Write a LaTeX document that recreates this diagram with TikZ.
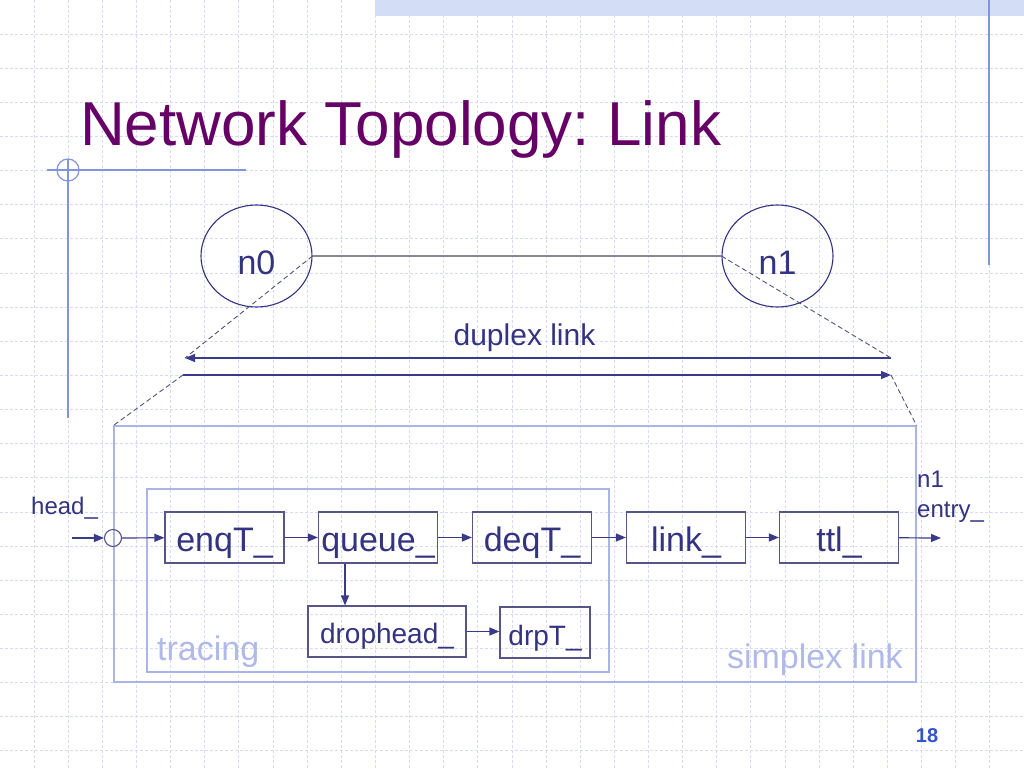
\documentclass[tikz,border=0pt]{standalone}
\usepackage{fontspec}
\setmainfont{Liberation Sans}
\usetikzlibrary{arrows.meta,shapes.geometric}
\definecolor{titlec}{RGB}{102,0,102}
\definecolor{txt}{RGB}{51,51,128}
\definecolor{boxc}{RGB}{85,85,136}
\definecolor{arrc}{RGB}{58,58,138}
\definecolor{frame}{RGB}{170,180,230}
\definecolor{lbl}{RGB}{176,185,232}
\definecolor{deco}{RGB}{130,148,220}
\definecolor{gridc}{RGB}{214,218,242}
\definecolor{bandc}{RGB}{211,221,245}
\definecolor{linkc}{RGB}{136,136,153}
\definecolor{dashc}{RGB}{85,85,119}
\definecolor{pagec}{RGB}{51,85,204}
\newcommand{\myfs}[1]{\fontsize{#1}{#1}\selectfont}
\frenchspacing
\tikzset{
  gridline/.style={draw=gridc,line width=1pt,dash pattern=on 3pt off 2pt},
  decoline/.style={draw=deco,line width=1.2pt},
  blockbox/.style={draw=boxc,line width=1.2pt,minimum width=119pt,minimum height=51pt,inner sep=0pt,text=txt,font=\myfs{34},text height=31pt,text depth=4pt},
  smallbox/.style={draw=boxc,line width=1.2pt,minimum height=51pt,inner sep=0pt,text=txt,font=\myfs{28}},
  arr/.style={draw=arrc,line width=1.2pt,-{Triangle[length=10pt,width=8pt]}},
  dashline/.style={draw=dashc,line width=0.9pt,dash pattern=on 5pt off 3pt},
  nodeell/.style={ellipse,draw=txt,line width=1.1pt,minimum width=111pt,minimum height=102pt,inner sep=0pt,text=txt,font=\myfs{34},text height=36pt,text depth=0pt},
  framebox/.style={draw=frame,line width=1.1pt,inner sep=0pt},
  plain/.style={inner sep=0pt,text=txt},
  faint/.style={inner sep=0pt,text=lbl,font=\myfs{34}},
}
\begin{document}
\begin{tikzpicture}[x=1pt,y=-1pt]
\useasboundingbox (0,0) rectangle (1024,768);
\fill[white] (0,0) rectangle (1024,768);
% grid
\foreach \i in {1,...,29} \draw[gridline] (\i*34.1333,0) -- (\i*34.1333,768);
\foreach \j in {1,...,22} \draw[gridline] (0,\j*34.1333) -- (1024,\j*34.1333);
% top band and decorations
\fill[bandc] (375,0) rectangle (1024,16);
\draw[decoline] (989,0) -- (989,265);
\draw[decoline] (47,170) -- (246,170);
\draw[decoline] (68,159) -- (68,418);
\draw[decoline] (68,170) circle[radius=11];
% title
\node[anchor=base west,inner sep=0pt,text=titlec,font=\myfs{62}] (title) at (80,145) {Network Topology: Link};
% nodes n0 n1
\node[nodeell] (n0) at (256.5,256) {n0};
\node[nodeell] (n1) at (777.5,256) {n1};
\draw[draw=linkc,line width=1.2pt] (n0.east) -- (n1.west);
% duplex link
\node[plain,anchor=base,font=\myfs{30}] (dup) at (524.5,345) {duplex link};
\coordinate (L1) at (185,358);
\coordinate (R1) at (891,358);
\coordinate (L2) at (183,375);
\coordinate (R2) at (891,375);
\draw[arr] (R1) -- (L1);
\draw[arr] (L2) -- (R2);
% frames
\node[framebox,minimum width=802pt,minimum height=256pt] (sl) at (515,554) {};
\node[framebox,minimum width=462pt,minimum height=183pt] (tr) at (378,580.5) {};
\node[faint,anchor=base west] (trl) at (157,660) {tracing};
\node[faint,anchor=base east] (sll) at (903,668) {simplex link};
% dashed projections
\draw[dashline] (n0.east) -- (L1);
\draw[dashline] (L2) -- (sl.north west);
\draw[dashline] (n1.west) -- (R1);
\draw[dashline] (R2) -- (sl.north east);
% blocks
\node[blockbox] (enq) at (224.5,537.5) {enqT\_};
\node[blockbox] (que) at (378,537.5) {queue\_};
\node[blockbox] (deq) at (532,537.5) {deqT\_};
\node[blockbox] (lnk) at (686,537.5) {link\_};
\node[blockbox] (ttl) at (839,537.5) {ttl\_};
\node[smallbox,minimum width=158pt,text height=25pt,text depth=2pt] (drop) at (387,631.5) {drophead\_};
\node[smallbox,minimum width=90pt,text height=27pt,text depth=2pt] (drp) at (545,632.5) {drpT\_};
\node[circle,draw=boxc,line width=1.1pt,minimum size=17pt,inner sep=0pt] (jn) at (113,538) {};
\coordinate (hin) at (72,538);
\coordinate (hout) at (941,538);
\node[plain,anchor=base west,font=\myfs{24}] (head) at (31,514) {head\_};
\node[plain,anchor=base west,font=\myfs{24}] (n1a) at (917,487) {n1};
\node[plain,anchor=base west,font=\myfs{24}] (n1b) at (917,517) {entry\_};
% arrows
\draw[arr] (hin) -- (jn);
\draw[arr] (jn) -- (enq);
\draw[arr] (enq) -- (que);
\draw[arr] (que) -- (deq);
\draw[arr] (deq) -- (lnk);
\draw[arr] (lnk) -- (ttl);
\draw[arr] (ttl) -- (hout);
\draw[arr] ([xshift=-33pt]que.south) -- ([xshift=-33pt]que.south |- drop.north);
\draw[arr] (drop.east) -- (drop.east -| drp.west);
% page number
\node[inner sep=0pt,text=pagec,font=\bfseries\myfs{20}] (pg) at (927,736) {18};
\end{tikzpicture}
\end{document}
